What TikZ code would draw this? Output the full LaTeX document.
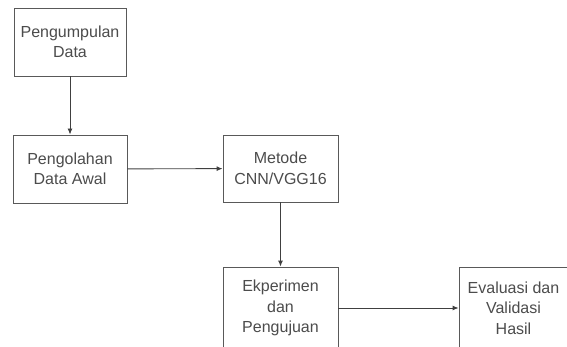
\documentclass[tikz,border=0pt]{standalone}
\usepackage{fontspec}
\setmainfont{Liberation Sans}
\usetikzlibrary{arrows.meta}

\begin{document}
\begin{tikzpicture}[x=1pt, y=-1pt]
        % ================= styles =================
        \tikzset{
            % process box
            stepbox/.style={rectangle, draw=black!65, line width=0.9pt, fill=white, inner sep=2pt,
                align=center, text=black!70, font=\fontsize{16}{20.5}\selectfont},
            % connector
            flow_arrow/.style={draw=black!75, line width=0.9pt, -{Latex[length=6pt, width=5pt]}}
        }

        % ================= frame =================
        \useasboundingbox (0,0) rectangle (567,347);
        \clip (0,0) rectangle (567,347);

        % ================= box positions =================
        \coordinate (collect_p) at (70,42);
        \coordinate (prep_p) at (70,169);
        \coordinate (method_p) at (280.5,168.5);
        \coordinate (test_p) at (280.5,308);
        \coordinate (eval_p) at (513.5,308);

        % ================= boxes =================
        \node[stepbox, minimum width=112, minimum height=68] (collect) at (collect_p) {Pengumpulan\\Data};
        \node[stepbox, minimum width=114, minimum height=68] (prep) at (prep_p) {Pengolahan\\Data Awal};
        \node[stepbox, minimum width=115, minimum height=67] (method) at (method_p) {Metode\\CNN/VGG16};
        \node[stepbox, minimum width=115, minimum height=82] (test) at (test_p) {Ekperimen\\dan\\Pengujuan};
        \node[stepbox, minimum width=109, minimum height=82] (eval) at (eval_p) {Evaluasi dan\\Validasi\\Hasil};

        % ================= arrows =================
        \draw[flow_arrow] (collect) -- (prep);
        \draw[flow_arrow] (prep) -- (method);
        \draw[flow_arrow] (method) -- (test);
        \draw[flow_arrow] (test) -- (eval);

    \end{tikzpicture}
\end{document}
